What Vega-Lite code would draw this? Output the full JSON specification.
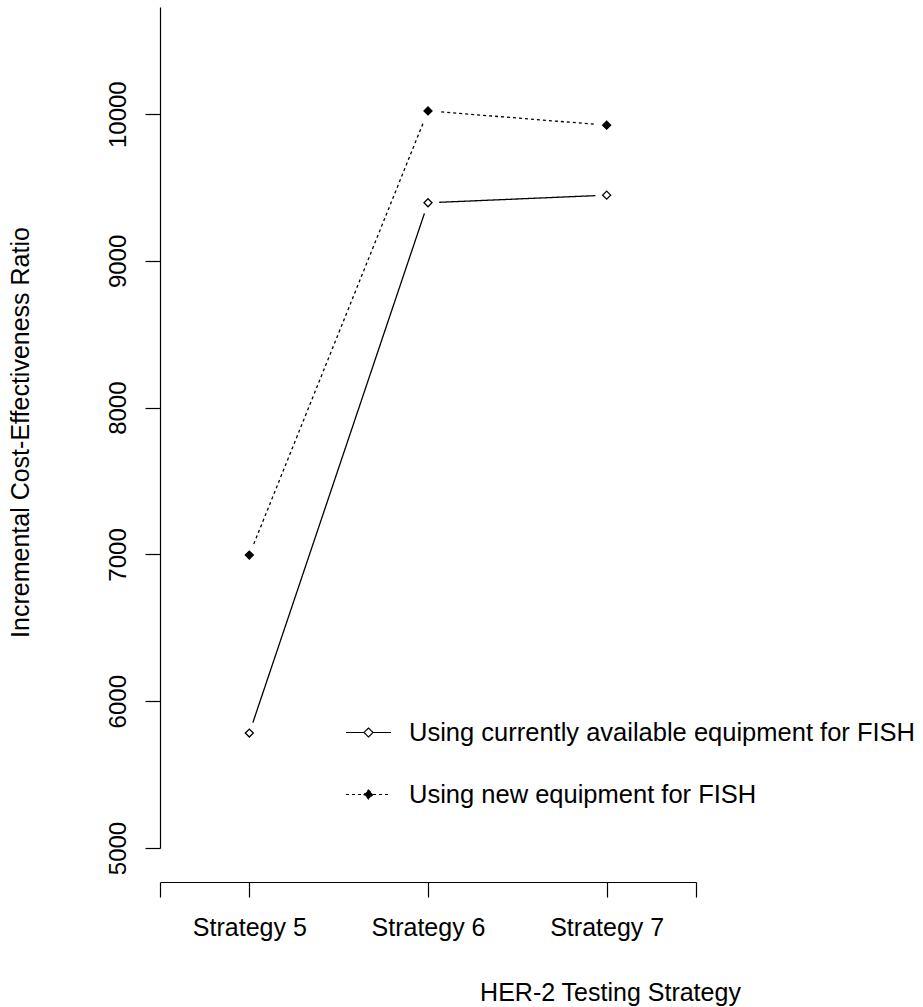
{
  "$schema": "https://vega.github.io/schema/vega-lite/v6.json",
  "width": 536,
  "height": 841,
  "autosize": {"type": "none"},
  "padding": {"left": 160, "top": 7, "right": 227, "bottom": 159},
  "background": "white",
  "config": {
    "view": {"stroke": null},
    "font": "Liberation Sans",
    "axis": {
      "grid": false,
      "domainColor": "black",
      "tickColor": "black",
      "labelColor": "black",
      "titleColor": "black",
      "domainWidth": 1.2,
      "tickWidth": 1.2,
      "tickSize": 15,
      "labelFontSize": 24,
      "titleFontSize": 25,
      "titleFontWeight": "normal",
      "labelOverlap": false,
      "labelFlush": false
    }
  },
  "data": {
    "values": [
      {"strategy": 5, "icer": 5783, "series": "Using currently available equipment for FISH"},
      {"strategy": 6, "icer": 9396, "series": "Using currently available equipment for FISH"},
      {"strategy": 7, "icer": 9448, "series": "Using currently available equipment for FISH"},
      {"strategy": 5, "icer": 6996, "series": "Using new equipment for FISH"},
      {"strategy": 6, "icer": 10022, "series": "Using new equipment for FISH"},
      {"strategy": 7, "icer": 9925, "series": "Using new equipment for FISH"}
    ]
  },
  "encoding": {
    "x": {
      "field": "strategy",
      "type": "quantitative",
      "scale": {"domain": [4.5, 7.5], "nice": false, "zero": false},
      "axis": {
        "values": [4.5, 5, 6, 7, 7.5],
        "labelExpr": "datum.value % 1 === 0 ? 'Strategy ' + datum.value : ''",
        "offset": 34,
        "labelFontSize": 25,
        "labelPadding": 38,
        "labelBaseline": "alphabetic",
        "title": "HER-2 Testing Strategy",
        "titleX": 450,
        "titleY": 118,
        "titleAlign": "center",
        "titleBaseline": "alphabetic"
      }
    },
    "y": {
      "field": "icer",
      "type": "quantitative",
      "scale": {"domain": [5000, 10730], "nice": false, "zero": false},
      "axis": {
        "values": [5000, 6000, 7000, 8000, 9000, 10000],
        "format": "d",
        "labelAngle": 270,
        "labelAlign": "center",
        "labelBaseline": "alphabetic",
        "labelPadding": 20,
        "title": "Incremental Cost-Effectiveness Ratio",
        "titleAngle": 270,
        "titleX": -132,
        "titleY": 425,
        "titleAlign": "center",
        "titleBaseline": "alphabetic"
      }
    }
  },
  "layer": [
    {
      "mark": {"type": "line", "color": "black", "strokeWidth": 1.3},
      "encoding": {
        "strokeDash": {
          "field": "series",
          "type": "nominal",
          "scale": {
            "domain": ["Using currently available equipment for FISH", "Using new equipment for FISH"],
            "range": [[1, 0], [3, 3]]
          },
          "legend": {
            "orient": "none",
            "legendX": 185,
            "legendY": 702,
            "title": null,
            "padding": 0,
            "symbolType": "M-1,0H-0.2M0.2,0H1M0,-0.2L0.2,0L0,0.2L-0.2,0Z",
            "symbolSize": 2025,
            "symbolStrokeColor": "black",
            "symbolStrokeWidth": 1.2,
            "labelFontSize": 25.5,
            "labelColor": "black",
            "labelOffset": 17,
            "labelLimit": 700,
            "rowPadding": 25,
            "encode": {
              "symbols": {
                "update": {
                  "fill": {"signal": "datum.value === 'Using new equipment for FISH' ? 'black' : 'white'"},
                  "stroke": {"value": "black"}
                }
              }
            }
          }
        }
      }
    },
    {
      "mark": {"type": "point", "shape": "circle", "filled": true, "color": "white", "size": 500, "opacity": 1}
    },
    {
      "mark": {"type": "point", "shape": "diamond", "filled": true, "size": 64, "stroke": "black", "strokeWidth": 1.3, "opacity": 1},
      "encoding": {
        "fill": {
          "field": "series",
          "type": "nominal",
          "scale": {
            "domain": ["Using currently available equipment for FISH", "Using new equipment for FISH"],
            "range": ["white", "black"]
          },
          "legend": null
        }
      }
    }
  ]
}
